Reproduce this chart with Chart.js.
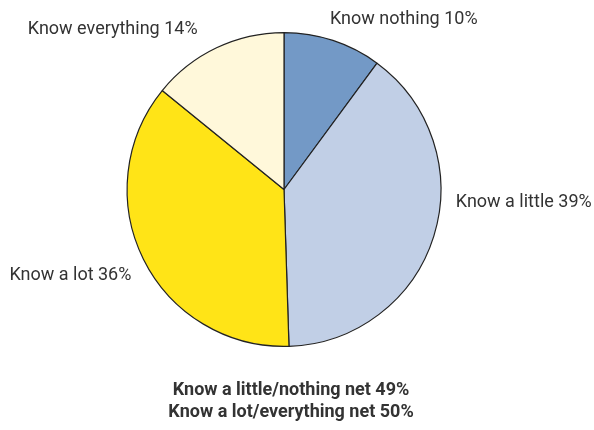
<!DOCTYPE html>
<html>
<head>
<meta charset="utf-8">
<script src="https://cdn.jsdelivr.net/npm/chart.js@4/dist/chart.umd.min.js"></script>
<style>
  html, body { margin: 0; padding: 0; background: #fff; }
  #wrap { width: 594px; height: 430px; }
</style>
</head>
<body>
<div id="wrap"><canvas id="pieChart" width="594" height="430"></canvas></div>
<script>
// Chart data
var categories = ["Know nothing", "Know a little", "Know a lot", "Know everything"];
var shares = [10, 39, 36, 14];
var netLines = ["Know a little/nothing net 49%", "Know a lot/everything net 50%"];

var sliceColors = ["#7399c6", "#c1cfe6", "#ffe417", "#fff8da"];
// label nudges from the outer midpoint of each slice (style only)
var labelNudge = [[-3, -21], [22, -34], [-12, 16], [-19, -18]];

var fontFamily = "'Roboto', sans-serif";

const labelPlugin = {
    id: "sliceLabels",
    afterDraw(chart) {
        var ctx = chart.ctx;
        var meta = chart.getDatasetMeta(0);
        ctx.save();
        ctx.fillStyle = "#333333";
        ctx.textBaseline = "middle";
        ctx.font = "18px " + fontFamily;
        meta.data.forEach((arc, i) => {
            var mid = (arc.startAngle + arc.endAngle) / 2;
            var x = arc.x + Math.cos(mid) * arc.outerRadius + labelNudge[i][0];
            var y = arc.y + Math.sin(mid) * arc.outerRadius + labelNudge[i][1];
            ctx.textAlign = Math.cos(mid) >= 0 ? "left" : "right";
            ctx.fillText(categories[i] + " " + shares[i] + "%", x, y);
        });
        // net summary under the pie
        ctx.font = "bold 18px " + fontFamily;
        ctx.textAlign = "center";
        netLines.forEach((t, i) => {
            ctx.fillText(t, 291, 390 + i * 22);
        });
        ctx.restore();
    },
};

var ctx = document.getElementById("pieChart").getContext("2d");
var pieChart = new Chart(ctx, {
    type: "pie",
    data: {
        labels: categories,
        datasets: [
            {
                data: shares,
                backgroundColor: sliceColors,
                borderColor: "#222222",
                borderWidth: 1.2,
            },
        ],
    },
    options: {
        responsive: false,
        animation: false,
        layout: {
            padding: { top: 32, bottom: 83, left: 126, right: 152 },
        },
        plugins: {
            legend: { display: false },
            tooltip: { enabled: false },
        },
    },
    plugins: [labelPlugin],
});
</script>
</body>
</html>
